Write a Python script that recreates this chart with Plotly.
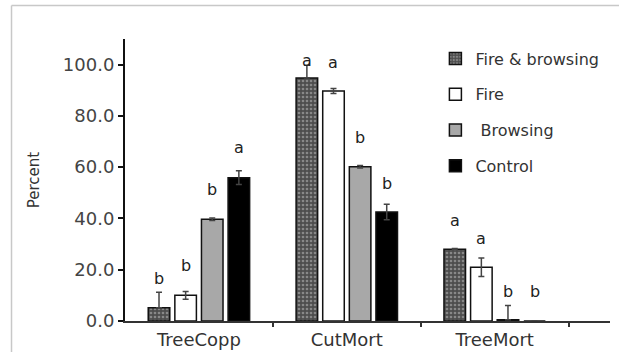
import plotly.graph_objects as go

# ---- data ----
categories = ["TreeCopp", "CutMort", "TreeMort"]
series_names = ["Fire & browsing", "Fire", " Browsing", "Control"]

fire_browsing = [5.2, 94.8, 28.0]
fire = [10.0, 89.7, 21.0]
browsing = [39.7, 60.2, 0.5]
control = [55.9, 42.5, 0.0]

err_plus_fire_browsing = [6.0, 5.0, 0.3]
err_minus_fire_browsing = [0.0, 0.0, 0.0]
err_plus_fire = [1.5, 1.0, 3.6]
err_minus_fire = [1.5, 1.0, 3.6]
err_plus_browsing = [0.5, 0.5, 5.5]
err_minus_browsing = [0.5, 0.5, 0.0]
err_plus_control = [2.7, 3.0, 0.0]
err_minus_control = [2.7, 3.0, 0.0]

letters_fire_browsing = ["b", "a", "a"]
letters_fire = ["b", "a", "a"]
letters_browsing = ["b", "b", "b"]
letters_control = ["a", "b", "b"]

# heights (in Percent units) where the significance letters sit
letter_h_fire_browsing = [16.7, 101.8, 39.3]
letter_h_fire = [21.8, 101.0, 32.3]
letter_h_browsing = [51.4, 71.4, 11.6]
letter_h_control = [67.5, 53.8, 11.6]

y_ticks = [0, 20, 40, 60, 80, 100]

# ---- figure ----
FONT = "DejaVu Sans"
xpos = list(range(len(categories)))
bargap = 0.28
bargroupgap = 0.19
slot = (1 - bargap) / len(series_names)

series = [
    (fire_browsing, err_plus_fire_browsing, err_minus_fire_browsing,
     letters_fire_browsing, letter_h_fire_browsing,
     dict(color="#4d4d4d", pattern=dict(shape=".", fgcolor="#c4c4c4",
                                        bgcolor="#4d4d4d", size=4, solidity=0.35))),
    (fire, err_plus_fire, err_minus_fire, letters_fire, letter_h_fire,
     dict(color="#ffffff")),
    (browsing, err_plus_browsing, err_minus_browsing, letters_browsing,
     letter_h_browsing, dict(color="#a8a8a8")),
    (control, err_plus_control, err_minus_control, letters_control,
     letter_h_control, dict(color="#000000")),
]

fig = go.Figure()
annotations = []
for j, (name, (vals, ep, em, lets, lh, mk)) in enumerate(zip(series_names, series)):
    marker = dict(mk)
    marker["line"] = dict(color="#111111", width=1.5)
    fig.add_trace(go.Bar(
        x=xpos, y=vals, name=name, legendgroup=name,
        marker=marker,
        error_y=dict(type="data", symmetric=False, array=ep, arrayminus=em,
                     color="#444444", thickness=1.5, width=3),
    ))
    for i in xpos:
        annotations.append(dict(
            x=i + (j - 1.5) * slot, y=lh[i], xref="x", yref="y",
            text=lets[i], showarrow=False, yanchor="middle",
            font=dict(family=FONT, size=16, color="#222222"),
        ))

# light frame of the original image (cropped box)
frame = dict(type="line", xref="paper", yref="paper",
             line=dict(color="#c8c8c8", width=1.5))
shapes = [
    dict(frame, x0=-0.234, x1=-0.234, y0=-0.2, y1=1.119),
    dict(frame, x0=-0.234, x1=1.05, y0=1.119, y1=1.119),
]

fig.update_layout(
    width=619, height=352,
    margin=dict(l=125, r=9, t=39, b=31, autoexpand=False),
    paper_bgcolor="white", plot_bgcolor="white",
    barmode="group", bargap=bargap, bargroupgap=bargroupgap,
    font=dict(family=FONT, color="#333333"),
    showlegend=True,
    legend=dict(x=0.64, y=0.991, xanchor="left", yanchor="top",
                traceorder="grouped", tracegroupgap=12,
                font=dict(family=FONT, size=16, color="#333333"),
                bgcolor="rgba(0,0,0,0)", itemwidth=30),
    annotations=annotations,
    shapes=shapes,
)

fig.update_xaxes(
    automargin=False,
    range=[-0.5, 2.78], tickvals=xpos, ticktext=categories,
    showline=True, linecolor="#333333", linewidth=1.5,
    ticks="outside", ticklen=2, tickcolor="rgba(0,0,0,0)",
    minor=dict(tickvals=[0.5, 1.5, 2.5], ticks="outside", ticklen=4,
               tickwidth=2, tickcolor="#333333"),
    showgrid=False, zeroline=False,
    tickfont=dict(family=FONT, size=18, color="#333333"),
)
fig.update_yaxes(
    automargin=False,
    range=[0, 110], tickvals=y_ticks, tickformat=".1f",
    showline=True, linecolor="#111111", linewidth=2,
    ticks="outside", ticklen=5, tickwidth=1.5, tickcolor="#111111",
    showgrid=False, zeroline=False,
    tickfont=dict(family=FONT, size=18, color="#444444"),
    title=dict(text="Percent", standoff=20,
               font=dict(family=FONT, size=15, color="#333333")),
)

fig.write_html(
    "out.html",
    config={"displayModeBar": False},
    post_script="document.body.style.margin='0';document.body.style.overflow='hidden';",
)
